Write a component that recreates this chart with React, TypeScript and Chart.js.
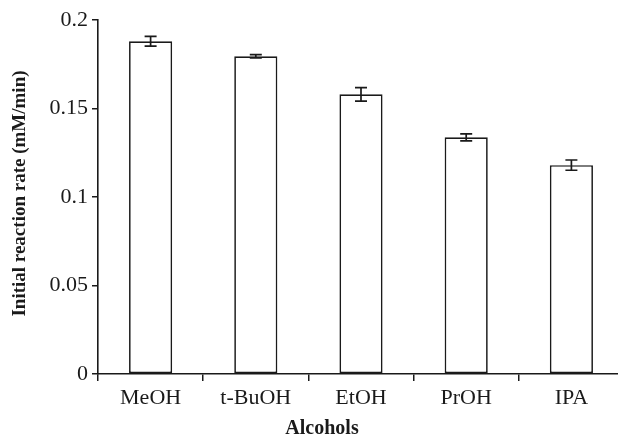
import React, { useEffect, useRef } from "react";
import { Chart, registerables } from "chart.js";

Chart.register(...registerables);

const categories = ["MeOH", "t-BuOH", "EtOH", "PrOH", "IPA"];
const rates = [0.188, 0.1795, 0.158, 0.1337, 0.118];
const errors = [0.0028, 0.0009, 0.0038, 0.002, 0.0029];
const yTicks = [0, 0.05, 0.1, 0.15, 0.2];
const yTickLabels = ["0", "0.05", "0.1", "0.15", "0.2"];
const xTitle = "Alcohols";
const yTitle = "Initial reaction rate (mM/min)";

const FAMILY = "'Liberation Serif', 'Times New Roman', serif";

const errorBarPlugin = {
  id: "errorBars",
  afterDatasetsDraw(chart: any) {
    const ctx = chart.ctx;
    const meta = chart.getDatasetMeta(0);
    const y = chart.scales.y;
    ctx.save();
    ctx.strokeStyle = "#1a1a1a";
    ctx.lineWidth = 1.7;
    meta.data.forEach((bar: any, i: number) => {
      const x = bar.x;
      const yHi = y.getPixelForValue(rates[i] + errors[i]);
      const yLo = y.getPixelForValue(rates[i] - errors[i]);
      const cap = 6;
      ctx.beginPath();
      ctx.moveTo(x, yHi);
      ctx.lineTo(x, yLo);
      ctx.moveTo(x - cap, yHi);
      ctx.lineTo(x + cap, yHi);
      ctx.moveTo(x - cap, yLo);
      ctx.lineTo(x + cap, yLo);
      ctx.stroke();
    });
    ctx.restore();
  },
};

const titlesPlugin = {
  id: "axisTitles",
  afterDraw(chart: any) {
    const ctx = chart.ctx;
    ctx.save();
    ctx.fillStyle = "#1a1a1a";
    ctx.textAlign = "center";
    ctx.textBaseline = "middle";
    ctx.font = `bold 20px ${FAMILY}`;
    ctx.fillText(xTitle, 322, 429);
    ctx.translate(20, 193.5);
    ctx.rotate(-Math.PI / 2);
    ctx.font = `bold 19px ${FAMILY}`;
    ctx.fillText(yTitle, 0, 0);
    ctx.restore();
  },
};

export default function App() {
  const ref = useRef<HTMLCanvasElement>(null);
  useEffect(() => {
    if (!ref.current) return;
    const chart = new Chart(ref.current, {
      type: "bar",
      data: {
        labels: categories,
        datasets: [
          {
            data: rates,
            backgroundColor: "#ffffff",
            borderColor: "#1a1a1a",
            borderWidth: 1.7,
            borderSkipped: false,
            categoryPercentage: 1,
            barPercentage: 0.41,
          },
        ],
      },
      plugins: [errorBarPlugin, titlesPlugin],
      options: {
        responsive: false,
        animation: false,
        layout: { padding: { top: 20, right: 2, bottom: 0, left: 0 } },
        plugins: { legend: { display: false }, tooltip: { enabled: false } },
        scales: {
          x: {
            grid: {
              display: true,
              offset: true,
              drawOnChartArea: false,
              drawTicks: true,
              tickLength: 7,
              color: "#1a1a1a",
              lineWidth: 1.5,
            },
            border: { display: true, color: "#1a1a1a", width: 1.6 },
            ticks: {
              color: "#1a1a1a",
              padding: 4,
              font: { family: FAMILY, size: 22 },
            },
            title: { display: false },
            afterFit(scale: any) {
              scale.height = 65;
            },
          },
          y: {
            min: 0,
            max: 0.2,
            afterBuildTicks(scale: any) {
              scale.ticks = yTicks.map((v) => ({ value: v }));
            },
            grid: {
              display: true,
              drawOnChartArea: false,
              drawTicks: true,
              tickLength: 6,
              color: "#1a1a1a",
              lineWidth: 1.5,
            },
            border: { display: true, color: "#1a1a1a", width: 1.6 },
            ticks: {
              color: "#1a1a1a",
              padding: 4,
              font: { family: FAMILY, size: 22 },
              callback: (value: any) => {
                const idx = yTicks.findIndex((t) => Math.abs(t - Number(value)) < 1e-9);
                return idx >= 0 ? yTickLabels[idx] : "";
              },
            },
            title: { display: false },
            afterFit(scale: any) {
              scale.width = 98;
            },
          },
        },
      },
    });
    return () => chart.destroy();
  }, []);
  return (
    <div
      style={{
        position: "fixed",
        left: 0,
        top: 0,
        width: 618,
        height: 439,
        overflow: "hidden",
        background: "#fff",
      }}
    >
      <canvas ref={ref} width={626} height={439} style={{ display: "block" }} />
    </div>
  );
}
